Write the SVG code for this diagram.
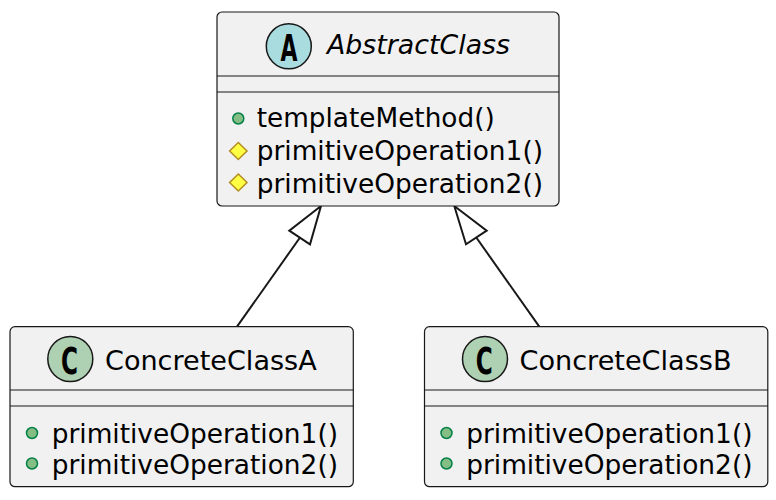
<svg xmlns="http://www.w3.org/2000/svg" width="776" height="500" viewBox="0 0 776 500">
<defs>
<style>
.box{fill:#F1F1F1;stroke:#181818;stroke-width:1.2}
.sep{stroke:#181818;stroke-width:1.2}
.name{font-family:"DejaVu Sans",sans-serif;font-size:26.5px;fill:#000}
.mem{font-family:"DejaVu Sans",sans-serif;font-size:26px;fill:#000}
.letter{font-family:"DejaVu Sans",sans-serif;font-weight:bold;font-size:38px;fill:#000;text-anchor:middle}
.pub{fill:#84BE84;stroke:#038048;stroke-width:1.5}
.prot{fill:#FFFF44;stroke:#B38D22;stroke-width:1.5}
.link{stroke:#181818;stroke-width:2;fill:none}
.head{fill:#FFFFFF;stroke:#181818;stroke-width:2}
</style>
</defs>
<g id="connectors">
<line class="link" x1="237" y1="326.7" x2="300" y2="237.5"/>
<polygon class="head" points="321,206 289.3,230.7 310,244.3"/>
<line class="link" x1="539.3" y1="326.7" x2="476.3" y2="237.5"/>
<polygon class="head" points="454.3,206 486.7,230.7 466,244.3"/>
</g>
<g id="AbstractClass">
<rect class="box" x="217" y="12" width="342" height="194" rx="5"/>
<line class="sep" x1="217" y1="76" x2="559" y2="76"/>
<line class="sep" x1="217" y1="92" x2="559" y2="92"/>
<circle cx="288.8" cy="46.3" r="22.5" fill="#A9DCDF" stroke="#181818" stroke-width="1.5"/>
<text class="letter" x="289" y="60.7" textLength="17" lengthAdjust="spacingAndGlyphs">A</text>
<text class="name" x="327" y="54.3" font-style="italic" textLength="183" lengthAdjust="spacingAndGlyphs">AbstractClass</text>
<circle class="pub" cx="238.3" cy="118.5" r="5.5"/>
<text class="mem" x="256.7" y="127.3" textLength="238" lengthAdjust="spacingAndGlyphs">templateMethod()</text>
<polygon class="prot" points="238.3,142.5 247,151 238.3,159.5 229.6,151"/>
<text class="mem" x="256.7" y="160" textLength="286.3" lengthAdjust="spacingAndGlyphs">primitiveOperation1()</text>
<polygon class="prot" points="238.3,174 247,182.5 238.3,191 229.6,182.5"/>
<text class="mem" x="256.7" y="192.5" textLength="286.3" lengthAdjust="spacingAndGlyphs">primitiveOperation2()</text>
</g>
<g id="ConcreteClassA">
<rect class="box" x="10" y="326.7" width="343.3" height="160" rx="5"/>
<line class="sep" x1="10" y1="390" x2="353.3" y2="390"/>
<line class="sep" x1="10" y1="406" x2="353.3" y2="406"/>
<circle cx="70.3" cy="359" r="22.5" fill="#ADD1B2" stroke="#181818" stroke-width="1.5"/>
<text class="letter" x="69.5" y="373.5" textLength="17" lengthAdjust="spacingAndGlyphs">C</text>
<text class="name" x="105" y="370" textLength="211.7" lengthAdjust="spacingAndGlyphs">ConcreteClassA</text>
<circle class="pub" cx="32" cy="433" r="5.5"/>
<text class="mem" x="51.7" y="442.5" textLength="286.3" lengthAdjust="spacingAndGlyphs">primitiveOperation1()</text>
<circle class="pub" cx="32" cy="463.5" r="5.5"/>
<text class="mem" x="51.7" y="473.5" textLength="286.3" lengthAdjust="spacingAndGlyphs">primitiveOperation2()</text>
</g>
<g id="ConcreteClassB">
<rect class="box" x="424.5" y="326.7" width="343.3" height="160" rx="5"/>
<line class="sep" x1="424.5" y1="390" x2="767.8" y2="390"/>
<line class="sep" x1="424.5" y1="406" x2="767.8" y2="406"/>
<circle cx="485" cy="359" r="22.5" fill="#ADD1B2" stroke="#181818" stroke-width="1.5"/>
<text class="letter" x="484.2" y="373.5" textLength="17" lengthAdjust="spacingAndGlyphs">C</text>
<text class="name" x="519.5" y="370" textLength="212" lengthAdjust="spacingAndGlyphs">ConcreteClassB</text>
<circle class="pub" cx="446.5" cy="433" r="5.5"/>
<text class="mem" x="466.2" y="442.5" textLength="286.3" lengthAdjust="spacingAndGlyphs">primitiveOperation1()</text>
<circle class="pub" cx="446.5" cy="463.5" r="5.5"/>
<text class="mem" x="466.2" y="473.5" textLength="286.3" lengthAdjust="spacingAndGlyphs">primitiveOperation2()</text>
</g>
</svg>
